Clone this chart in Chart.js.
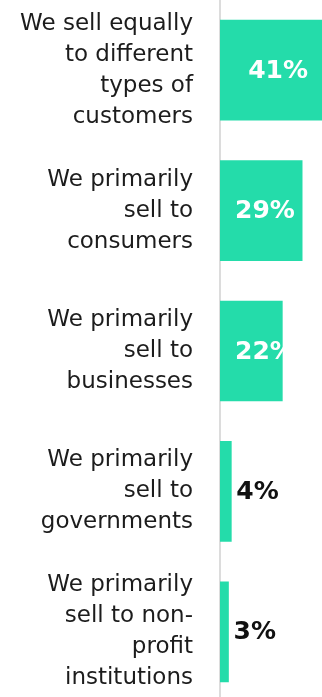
<!DOCTYPE html>
<html>
<head>
<meta charset="utf-8">
<script src="https://cdn.jsdelivr.net/npm/chart.js@4"></script>
<style>
  html, body { margin: 0; padding: 0; background: #fff; overflow: hidden; }
  #wrap { width: 322px; height: 697px; overflow: hidden; }
  canvas { display: block; }
</style>
</head>
<body>
<div id="wrap">
  <canvas id="customer-chart" width="322" height="702"></canvas>
</div>
<script>
const categories = [
    ['We sell equally', 'to different', 'types of', 'customers'],
    ['We primarily', 'sell to', 'consumers'],
    ['We primarily', 'sell to', 'businesses'],
    ['We primarily', 'sell to', 'governments'],
    ['We primarily', 'sell to non-', 'profit', 'institutions']
];
const shares = [41, 29, 22, 4, 3];

const BAR_COLOR = '#24dcaa';
const FONT = '"DejaVu Sans", sans-serif';

// Percent labels: white inside wide bars, black just past the end of thin ones
const valueLabels = {
    id: 'valueLabels',
    afterDatasetsDraw(chart) {
        const ctx = chart.ctx;
        const meta = chart.getDatasetMeta(0);
        ctx.save();
        ctx.font = 'bold 25px ' + FONT;
        ctx.textBaseline = 'middle';
        ctx.textAlign = 'left';
        meta.data.forEach((bar, i) => {
            const value = shares[i];
            const text = value + '%';
            const w = ctx.measureText(text).width;
            let x;
            if (value >= 10) {
                ctx.fillStyle = '#ffffff';
                x = Math.max((bar.base + bar.x) / 2 - w / 2, bar.base + 15);
            } else {
                ctx.fillStyle = '#111111';
                x = bar.x + 5;
            }
            ctx.fillText(text, x, bar.y + 1);
        });
        ctx.restore();
    }
};

new Chart(document.getElementById('customer-chart'), {
    type: 'bar',
    data: {
        labels: categories,
        datasets: [{
            data: shares,
            backgroundColor: BAR_COLOR,
            borderWidth: 0,
            barThickness: 100
        }]
    },
    options: {
        indexAxis: 'y',
        responsive: false,
        animation: false,
        layout: { padding: 0 },
        plugins: {
            legend: { display: false },
            tooltip: { enabled: false }
        },
        scales: {
            x: {
                display: false,
                min: 0,
                max: 36
            },
            y: {
                afterFit(scale) {
                    // fixed gutter for the labels, and let the bars use the full height
                    scale.width = 220;
                    scale.paddingTop = 0;
                    scale.paddingBottom = 0;
                },
                grid: { display: false, drawTicks: false },
                border: { display: true, color: '#dcdcdc', width: 2 },
                ticks: {
                    padding: 27,
                    color: '#1c1c1c',
                    font: { family: FONT, size: 23, lineHeight: 1.35 }
                }
            }
        }
    },
    plugins: [valueLabels]
});
</script>
</body>
</html>
